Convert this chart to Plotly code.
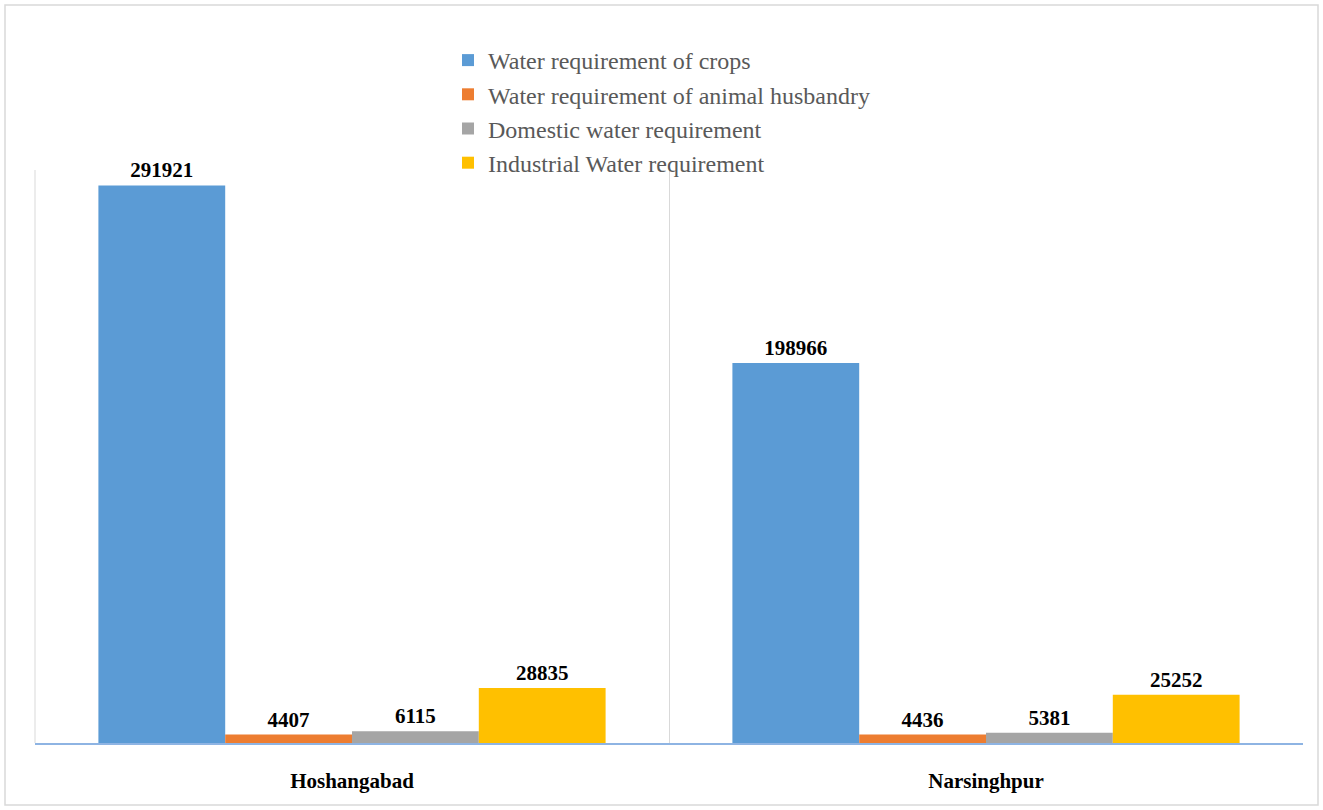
import plotly.graph_objects as go

districts = ["Hoshangabad", "Narsinghpur"]
series_names = [
    "Water requirement of crops",
    "Water requirement of animal husbandry",
    "Domestic water requirement",
    "Industrial Water requirement",
]
crops = [291921, 198966]
animal = [4407, 4436]
domestic = [6115, 5381]
industrial = [28835, 25252]
colors = ["#5B9BD5", "#ED7D31", "#A5A5A5", "#FFC000"]

W, H = 1323, 810
ml, mr, mt, mb = 35, 20, 170, 67
pw, ph = W - ml - mr, H - mt - mb
SERIF = "Liberation Serif"

fig = go.Figure()
for name, vals, col in zip(series_names, [crops, animal, domestic, industrial], colors):
    fig.add_trace(go.Bar(
        x=districts, y=vals, name=name, marker_color=col, marker_line_width=0,
        text=[str(v) for v in vals], textposition="outside", cliponaxis=False,
        textfont=dict(family=SERIF, size=21, color="#000000"),
        texttemplate="<b>%{text}</b>",
    ))

def px_x(p):
    return (p - ml) / pw

def px_y(p):
    return (H - mb - p) / ph

fig.add_shape(type="rect", xref="paper", yref="paper",
              x0=px_x(5), x1=px_x(1318), y0=px_y(805), y1=px_y(5),
              line=dict(color="#D9D9D9", width=1.5), layer="below")
fig.add_shape(type="line", xref="paper", yref="paper",
              x0=0, x1=0, y0=0, y1=1,
              line=dict(color="#D9D9D9", width=1), layer="below")

fig.update_layout(
    width=W, height=H,
    font=dict(family=SERIF),
    margin=dict(l=ml, r=mr, t=mt, b=mb),
    paper_bgcolor="white", plot_bgcolor="white",
    barmode="group", bargap=0.2, bargroupgap=0,
    showlegend=True,
    legend=dict(
        x=px_x(448), y=px_y(38), xanchor="left", yanchor="top",
        font=dict(family=SERIF, size=24, color="#595959"),
        bgcolor="rgba(0,0,0,0)", itemwidth=30, tracegroupgap=0,
    ),
    xaxis=dict(
        showgrid=True, gridcolor="#D9D9D9", gridwidth=1, tickson="boundaries",
        ticks="", showline=True, linecolor="#8EB4E3", linewidth=2,
        tickfont=dict(family=SERIF, size=21, color="#000000"),
        tickvals=districts, ticktext=["<b>%s</b>" % d for d in districts],
        ticklabelstandoff=18,
    ),
    yaxis=dict(range=[0, 300000], visible=False, showgrid=False, zeroline=False),
)

fig.write_html("out.html")
